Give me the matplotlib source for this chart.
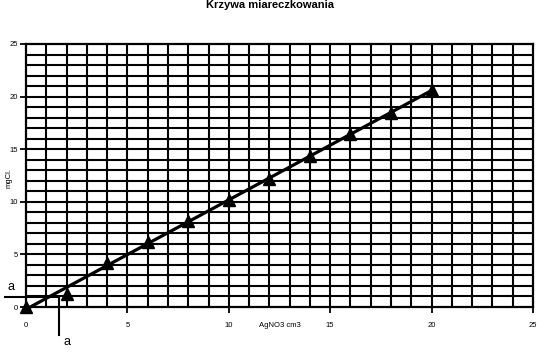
import numpy as np
import matplotlib
matplotlib.use("Agg")
import matplotlib.pyplot as plt

plt.rcParams['font.family'] = ['Liberation Sans', 'DejaVu Sans']

# data
x_vals = [0, 2, 4, 6, 8, 10, 12, 14, 16, 18, 20]
y_vals = [0, 1.2, 4.2, 6.2, 8.2, 10.2, 12.2, 14.4, 16.4, 18.4, 20.6]
x_ticks = [0, 5, 10, 15, 20, 25]
y_ticks = [0, 5, 10, 15, 20, 25]
title = "Krzywa miareczkowania"
x_label = "AgNO3 cm3"
y_label = "mgCl."
a_x = 1.63
a_y = 0.92

fig = plt.figure(figsize=(5.4, 3.58), dpi=100)
ax = fig.add_axes([26/540, 1-307/358, (533-26)/540, (307-44)/358])

ax.set_xlim(0, 25)
ax.set_ylim(0, 25)

# grid every unit
for gx in range(1, 25):
    ax.axvline(gx, color='black', lw=1.5, zorder=1)
for gy in range(1, 25):
    ax.axhline(gy, color='black', lw=1.5, zorder=1)
for s in ax.spines.values():
    s.set_linewidth(1.6)
    s.set_color('black')

# trendline (linear fit)
coef = np.polyfit(x_vals, y_vals, 1)
xx = np.array([x_vals[0], x_vals[-1]])
ax.plot(xx, np.polyval(coef, xx), color='black', lw=2.3, zorder=3, clip_on=False)
ax.plot(x_vals, y_vals, linestyle='none', marker='^', markersize=8.5,
        color='black', zorder=4, clip_on=False)

ax.set_xticks(x_ticks)
ax.set_yticks(y_ticks)
ax.set_xticklabels([str(t) for t in x_ticks], fontsize=5.5)
ax.set_yticklabels([str(t) for t in y_ticks], fontsize=5.5)
ax.tick_params(axis='x', length=4, width=1.3, pad=7)
ax.tick_params(axis='y', length=4, width=1.3, pad=2)

ax.set_xlabel(x_label, fontsize=5.5)
ax.xaxis.set_label_coords(0.5, -0.058)
ax.set_ylabel(y_label, fontsize=5.5)
ax.yaxis.set_label_coords(-0.026, 0.49)

fig.text(0.5, 1 - 5/358, title, ha='center', va='center', fontsize=8, fontweight='bold')

# "a" construction lines
ax.plot([-1.03, a_x], [a_y, a_y], color='black', lw=1.5, clip_on=False, zorder=5)
ax.plot([a_x, a_x], [a_y, -2.65], color='black', lw=1.5, clip_on=False, zorder=5)
fig.text(11/540, 1 - 287/358, "a", ha='center', va='center', fontsize=9)
fig.text(67/540, 1 - 342/358, "a", ha='center', va='center', fontsize=9)

fig.savefig("out.png", dpi=100)
